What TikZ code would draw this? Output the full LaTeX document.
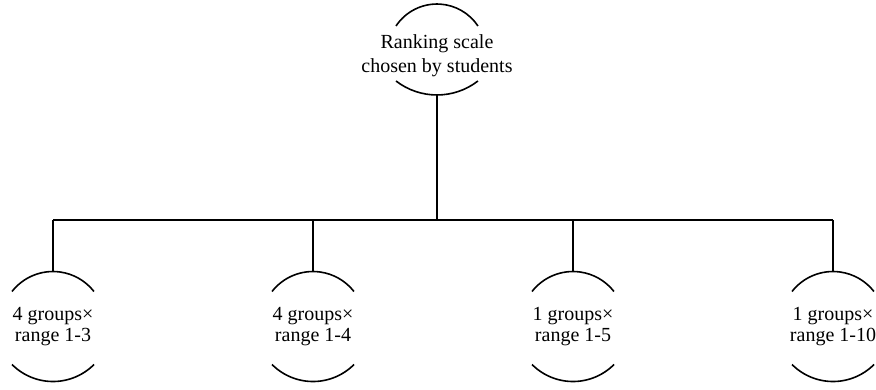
\documentclass[tikz,border=0pt]{standalone}
\usepackage{fontspec}
\setmainfont{Liberation Serif}
\usetikzlibrary{calc}
\begin{document}
\begin{tikzpicture}[x=1pt,y=1pt, line width=1.6pt,
  lbl/.style={align=center, inner sep=0pt, font=\fontsize{20}{21.5}\selectfont},
  toplbl/.style={lbl, font=\fontsize{20}{24}\selectfont}]
\useasboundingbox (0,0) rectangle (876,390);
% root node
\node[toplbl] (root) at (437,334) {Ranking scale\\chosen by students};
\coordinate (rootT) at ($(root.center)+(0,52)$);
\coordinate (rootB) at ($(root.center)+(0,-39)$);
\draw ($(rootT)+(-41,-22)$) arc[start angle=146.4, end angle=33.6, radius=49.2];
\draw ($(rootB)+(-41,14)$) arc[start angle=232.3, end angle=307.7, radius=67];
% leaf nodes
\node[lbl] (a) at (53,63.5) {4 groups×\\range 1-3};
\node[lbl] (b) at (313,63.5) {4 groups×\\range 1-4};
\node[lbl] (c) at (573,63.5) {1 groups×\\range 1-5};
\node[lbl] (d) at (833,63.5) {1 groups×\\range 1-10};
\foreach \n in {a,b,c,d} {
  \coordinate (\n T) at ($(\n.center)+(0,55)$);
  \coordinate (\n B) at ($(\n.center)+(0,-55)$);
  \draw ($(\n T)+(-41,-20)$) arc[start angle=142, end angle=38, radius=52];
  \draw ($(\n B)+(-41,17)$) arc[start angle=224.9, end angle=315.1, radius=57.9];
}
% connectors
\coordinate (bus) at (437,170);
\draw (rootB) -- (bus);
\draw (aT |- bus) -- (dT |- bus);
\foreach \n in {a,b,c,d} {
  \draw (\n T |- bus) -- (\n T);
}
\end{tikzpicture}
\end{document}
